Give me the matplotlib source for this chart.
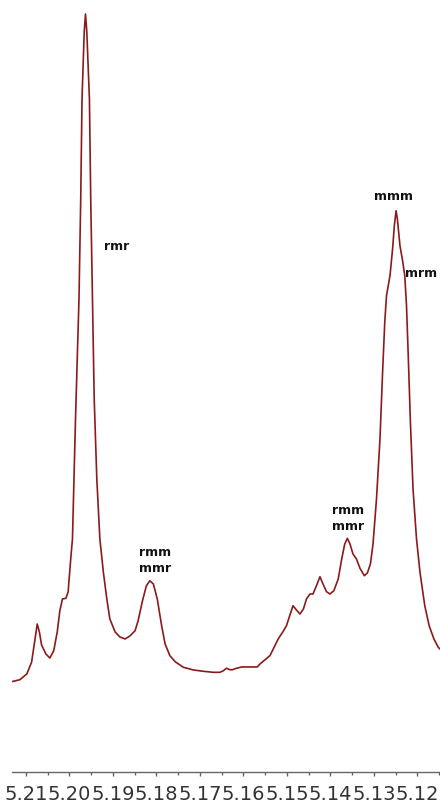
import numpy as np
import matplotlib
matplotlib.use('Agg')
import matplotlib.pyplot as plt
import matplotlib.ticker as mticker

# chemical shift (ppm) and intensity (rmr peak = 100)
ppm = [5.2133, 5.2114, 5.2098, 5.2087, 5.2079, 5.2074, 5.2069, 5.2064, 5.2054,
       5.2045, 5.2036, 5.2028, 5.2022, 5.2016, 5.2008, 5.2003, 5.1997, 5.1993,
       5.1986, 5.1978, 5.1974, 5.1971, 5.1966, 5.1963, 5.1960, 5.1954, 5.1951,
       5.1947, 5.1943, 5.1937, 5.1930, 5.1922, 5.1914, 5.1907, 5.1895, 5.1884,
       5.1872, 5.1861, 5.1849, 5.1842, 5.1832, 5.1823, 5.1815, 5.1807, 5.1798,
       5.1788, 5.1780, 5.1769, 5.1757, 5.1738, 5.1715, 5.1692, 5.1669, 5.1654,
       5.1646, 5.1639, 5.1631, 5.1625, 5.1616, 5.1604, 5.1585, 5.1568, 5.1562,
       5.1539, 5.1520, 5.1509, 5.1501, 5.1491, 5.1486, 5.1478, 5.1470, 5.1462,
       5.1455, 5.1447, 5.1440, 5.1432, 5.1424, 5.1417, 5.1409, 5.1401, 5.1392,
       5.1382, 5.1374, 5.1367, 5.1361, 5.1355, 5.1348, 5.1340, 5.1332, 5.1322,
       5.1315, 5.1308, 5.1302, 5.1294, 5.1286, 5.1280, 5.1275, 5.1271, 5.1263,
       5.1257, 5.1253, 5.1249, 5.1246, 5.1240, 5.1234, 5.1229, 5.1225, 5.1221,
       5.1216, 5.1210, 5.1202, 5.1194, 5.1183, 5.1173, 5.1162, 5.1152, 5.1148]

intensity = [0.04, 0.34, 1.20, 2.95, 6.44, 8.68, 7.49, 5.54, 4.19,
             3.59, 4.69, 7.49, 10.67, 12.43, 12.53, 13.47, 18.41, 21.41,
             39.37, 57.34, 72.31, 87.28, 97.31, 100.0, 97.31, 87.28, 72.31,
             57.34, 42.37, 30.39, 21.41, 16.47, 12.43, 9.43, 7.49, 6.74,
             6.44, 6.89, 7.68, 9.18, 12.17, 14.42, 15.16, 14.67, 12.43,
             8.43, 5.69, 3.94, 3.04, 2.20, 1.80, 1.60, 1.45, 1.45,
             1.69, 2.05, 1.84, 1.84, 2.05, 2.25, 2.25, 2.25, 2.69,
             3.94, 6.44, 7.53, 8.43, 10.43, 11.42, 10.78, 10.18, 10.93,
             12.43, 13.17, 13.17, 14.42, 15.76, 14.67, 13.52, 13.17, 13.67,
             15.42, 18.41, 20.66, 21.51, 20.66, 19.16, 18.41, 17.02, 15.91,
             16.32, 17.66, 20.66, 27.40, 36.38, 46.36, 53.85, 57.83, 60.82,
             64.82, 68.31, 70.55, 69.31, 65.31, 63.07, 60.82, 56.33, 48.85,
             38.88, 28.89, 21.41, 16.42, 11.42, 8.43, 6.44, 5.19, 4.94]

# triad assignments and where they sit
labels = ['rmr', 'rmm\nmmr', 'rmm\nmmr', 'mmm', 'mrm']
label_ppm = [5.1892, 5.1802, 5.1360, 5.1254, 5.1191]
label_int = [65.3, 18.3, 24.6, 72.8, 61.3]

fig = plt.figure(figsize=(4.4, 8.03), dpi=100)
ax = fig.add_axes([12/440, (803-772.7)/803, 1-12/440, 772.7/803])

ax.plot(ppm, intensity, color='#8b1a1a', lw=1.2, solid_joinstyle='round')

for txt, xp, yp in zip(labels, label_ppm, label_int):
    ax.text(xp, yp, txt, ha='center', va='center', fontsize=9,
            fontweight='bold', color='#111111', linespacing=1.3)

ax.set_xlim(5.2132, 5.1148)
ax.set_ylim(-13.43, 102.25)

ax.xaxis.set_major_locator(mticker.MultipleLocator(0.01))
ax.xaxis.set_minor_locator(mticker.MultipleLocator(0.005))
ax.xaxis.set_major_formatter(mticker.FormatStrFormatter('%.2f'))
ax.tick_params(axis='x', which='major', length=3, width=1, color='#666666',
               labelsize=14, labelcolor='#333333', pad=5.5)
ax.tick_params(axis='x', which='minor', length=2, width=1, color='#666666')
ax.set_yticks([])

for side in ['left', 'right', 'top']:
    ax.spines[side].set_visible(False)
ax.spines['bottom'].set_color('#666666')
ax.spines['bottom'].set_linewidth(1)

fig.savefig('out.png', dpi=100)
